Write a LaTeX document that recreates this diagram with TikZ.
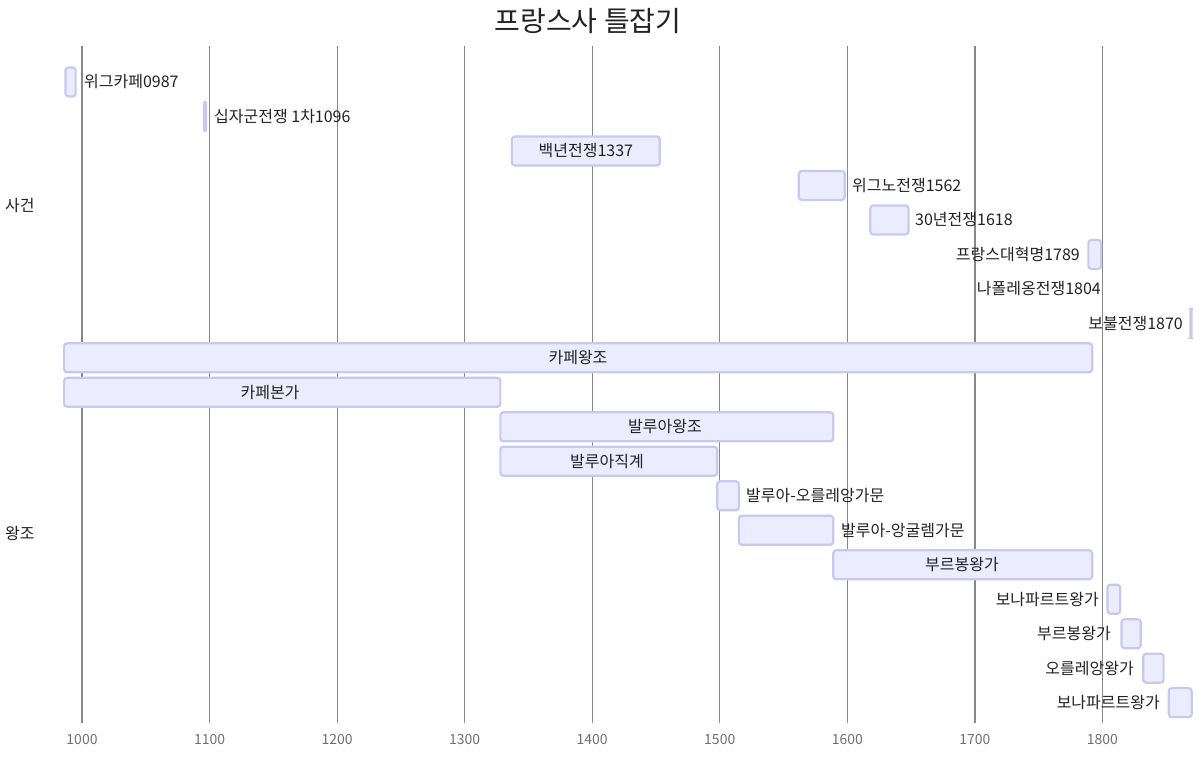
\documentclass[tikz,border=0pt]{standalone}
\usepackage{fontspec}
\setmainfont{Noto Sans CJK KR}
\begin{document}
\begin{tikzpicture}[x=1pt,y=-1pt,
  declare function={yr(\t)=82+(\t-1000)*1.2755; rc(\i)=82+(\i-1)*34.48;},
  bar/.style={draw=barline,fill=barfill,line width=2.2pt,rounded corners=3pt},
  lbl/.style={font=\fontsize{16}{18}\selectfont,text=txt,inner sep=0pt},
  grid/.style={draw=gridc,line width=0.8pt},
  tick/.style={font=\fontsize{14}{16}\selectfont,text=tickc,inner sep=0pt}]
\definecolor{barline}{HTML}{C8C8F0}
\definecolor{barfill}{HTML}{ECECFF}
\definecolor{txt}{HTML}{222222}
\definecolor{gridc}{HTML}{888888}
\definecolor{tickc}{HTML}{707070}
\useasboundingbox[fill=white] (0,0) rectangle (1204,768);
% title
\node[font=\fontsize{28}{30}\selectfont,text=txt,inner sep=0pt] (title) at (588,21) {프랑스사 틀잡기};
% grid
\foreach \t in {1000,1100,...,1800}{
  \draw[grid] ({yr(\t)},46) -- ({yr(\t)},723);
  \node[tick] (t\t) at ({yr(\t)},739) {\t};
}
\draw[grid,line width=1.6pt] ({yr(1000)},46) -- ({yr(1000)},723);
\draw[grid,line width=1.6pt] ({yr(1700)},46) -- ({yr(1700)},723);
% sections
\node[lbl,anchor=west] (s1) at (5,{rc(4.57)}) {사건};
\node[lbl,anchor=west] (s2) at (5,{rc(14.08)}) {왕조};
% bars
\newcommand{\gbar}[3]{\draw[bar] ({yr(#1)},{rc(#3)-14.5}) rectangle ({yr(#2)},{rc(#3)+14.5});}
\gbar{987}{995}{1}
\node[lbl,anchor=west] (e1) at (84,{rc(1)}) {위그카페0987};
\draw[bar,rounded corners=1pt] (204,{rc(2)-14.5}) rectangle (206,{rc(2)+14.5});
\node[lbl,anchor=west] (e2) at (214,{rc(2)}) {십자군전쟁 1차1096};
\gbar{1337}{1453}{3}
\node[lbl] (e3) at ({(yr(1337)+yr(1453))/2},{rc(3)}) {백년전쟁1337};
\gbar{1562}{1598}{4}
\node[lbl,anchor=west] (e4) at (852,{rc(4)}) {위그노전쟁1562};
\gbar{1618}{1648}{5}
\node[lbl,anchor=west] (e5) at (915,{rc(5)}) {30년전쟁1618};
\gbar{1789}{1799}{6}
\node[lbl,anchor=east] (e6) at (1080,{rc(6)}) {프랑스대혁명1789};
\node[lbl,anchor=east] (e7) at (1101,{rc(7)}) {나폴레옹전쟁1804};
\draw[bar,rounded corners=1pt] (1190.5,{rc(8)-14.5}) rectangle (1191.5,{rc(8)+14.5});
\node[lbl,anchor=east] (e8) at (1183,{rc(8)}) {보불전쟁1870};
\gbar{986}{1792}{9}
\node[lbl] (d1) at (578,{rc(9)}) {카페왕조};
\gbar{986}{1328}{10}
\node[lbl] (d2) at (270,{rc(10)}) {카페본가};
\gbar{1328}{1589}{11}
\node[lbl] (d3) at (665,{rc(11)}) {발루아왕조};
\gbar{1328}{1498}{12}
\node[lbl] (d4) at (607,{rc(12)}) {발루아직계};
\gbar{1498}{1515}{13}
\node[lbl,anchor=west] (d5) at (746,{rc(13)}) {발루아-오를레앙가문};
\gbar{1515}{1589}{14}
\node[lbl,anchor=west] (d6) at (841,{rc(14)}) {발루아-앙굴렘가문};
\gbar{1589}{1792}{15}
\node[lbl] (d7) at (962,{rc(15)}) {부르봉왕가};
\gbar{1804}{1814}{16}
\node[lbl,anchor=east] (d8) at (1099,{rc(16)}) {보나파르트왕가};
\gbar{1815}{1830}{17}
\node[lbl,anchor=east] (d9) at (1111,{rc(17)}) {부르봉왕가};
\gbar{1832}{1848}{18}
\node[lbl,anchor=east] (d10) at (1134,{rc(18)}) {오를레앙왕가};
\gbar{1852}{1870}{19}
\node[lbl,anchor=east] (d11) at (1160,{rc(19)}) {보나파르트왕가};
\end{tikzpicture}
\end{document}
